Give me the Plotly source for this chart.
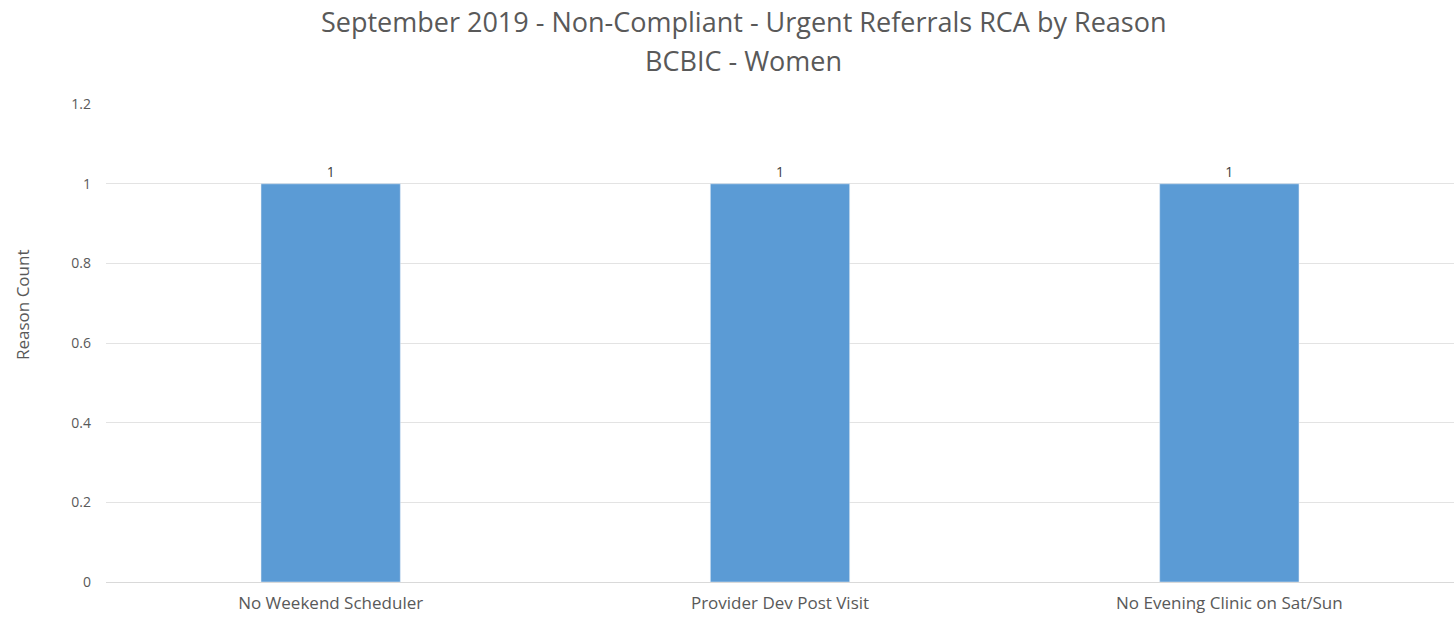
import plotly.graph_objects as go

reasons = ["No Weekend Scheduler", "Provider Dev Post Visit", "No Evening Clinic on Sat/Sun"]
counts = [1, 1, 1]
y_ticks = [0, 0.2, 0.4, 0.6, 0.8, 1, 1.2]
y_tick_text = ["0", "0.2", "0.4", "0.6", "0.8", "1", "1.2"]
title_lines = ["September 2019 - Non-Compliant - Urgent Referrals RCA by Reason", "BCBIC - Women"]

W, H = 1454, 621
TOP, BOTTOM, LEFT = 104, 39, 106
plot_h = H - TOP - BOTTOM
plot_w = W - LEFT


def paper_y(py):
    """Pixel row (from top of page) -> paper y."""
    return 1 + (TOP - py) / plot_h


def paper_x(px):
    """Pixel column (from left of page) -> paper x."""
    return (px - LEFT) / plot_w


fig = go.Figure(
    go.Bar(
        x=reasons,
        y=counts,
        marker_color="#5B9BD5",
        text=[str(c) for c in counts],
        textposition="outside",
        textfont=dict(size=14, color="#404040"),
        cliponaxis=False,
    )
)

annotations = [
    dict(text=line, x=paper_x(743), y=paper_y(py), xref="paper", yref="paper",
         showarrow=False, xanchor="center", yanchor="middle",
         font=dict(size=27, color="#595959"))
    for line, py in zip(title_lines, [21, 60])
]
annotations.append(
    dict(text="Reason Count", x=paper_x(22), y=paper_y(305), xref="paper", yref="paper",
         showarrow=False, textangle=-90, xanchor="center", yanchor="middle",
         font=dict(size=17, color="#595959"))
)

fig.update_layout(
    width=W,
    height=H,
    margin=dict(l=LEFT, r=0, t=TOP, b=BOTTOM),
    paper_bgcolor="white",
    plot_bgcolor="white",
    bargap=0.69,
    showlegend=False,
    font=dict(family="Open Sans, Liberation Sans, sans-serif", color="#595959"),
    annotations=annotations,
)

fig.update_xaxes(
    showline=True, linecolor="#D9D9D9", linewidth=1,
    tickfont=dict(size=17, color="#595959"), ticks="", ticklabelstandoff=6,
)
fig.update_yaxes(
    range=[0, 1.2005], tickvals=y_ticks, ticktext=y_tick_text,
    showgrid=True, gridcolor="#E3E3E3", zeroline=False,
    tickfont=dict(size=14, color="#595959"), ticklabelstandoff=14,
)

fig.write_html("out.html")
